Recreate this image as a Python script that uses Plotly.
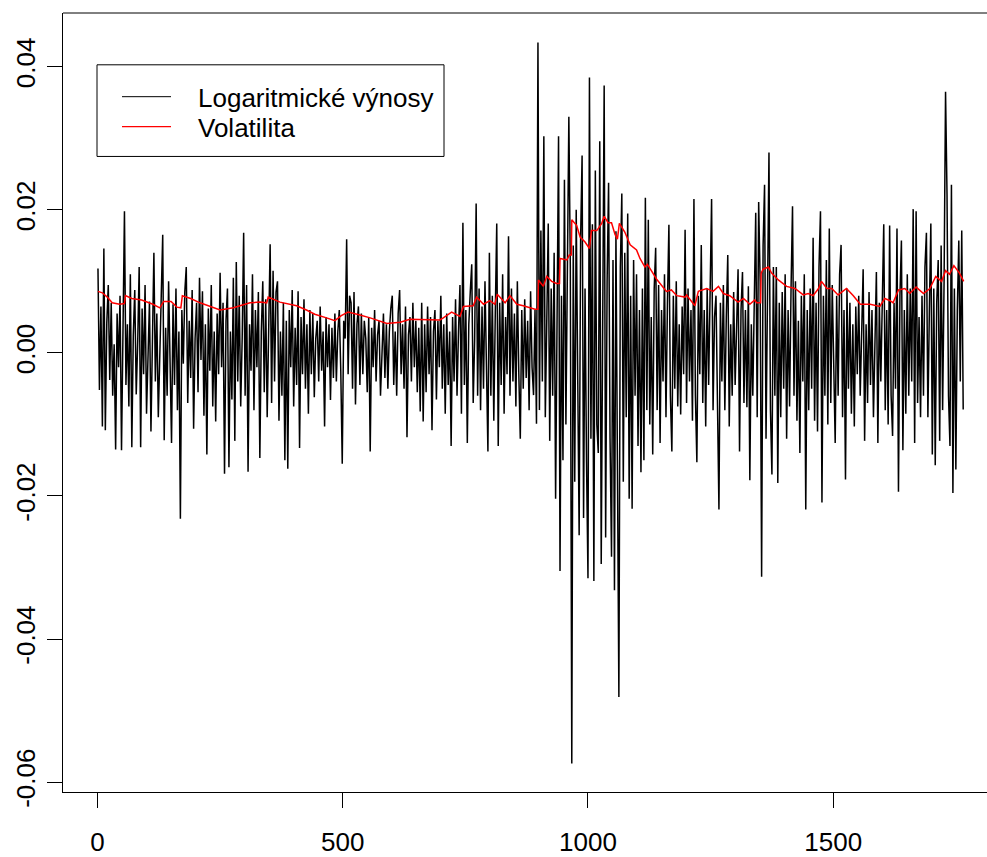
import plotly.graph_objects as go

# ---------------- data ----------------
# Log returns (in units of 1e-4), sampled every 3rd observation starting at t=1
returns_e4 = [
    118, -52, 65, -103, 146, -108, 42, 95, -38, 70, -60, 12, -135, 55, -20, 80, -136, 30, 198, -45,
    40, -75, 110, -132, 25, 88, -58, 15, 120, -132, 62, -30, 95, -85, 5, 72, -110, 48, 140, -40,
    55, -90, 20, 80, 165, -122, 35, -60, 100, -20, -126, 68, -45, 90, -80, 30, -232, 60, -15, 85,
    120, -70, 45, -35, 88, -106, 20, 70, -55, 105, -10, 86, -88, 40, -142, 62, -25, 95, -75, 30,
    -96, 55, -30, 112, -20, 70, -169, 45, 90, -160, 30, -65, 105, -123, 127, -40, 80, -75, 20, 168,
    -60, 95, -166, 40, -25, 110, -80, 60, -20, 85, -147, 30, 100, -55, 75, -90, 20, 152, -70, 115,
    -40, 85, 100, -95, 30, -60, 70, -150, 45, -162, 60, -20, 88, -75, 35, -45, 86, -133, 50, -30,
    75, -50, 40, -85, 60, -30, 55, -62, 20, 45, -40, 65, -25, 30, -103, 50, -20, 40, -66, 35,
    -35, 55, -40, 30, 60, -25, -155, 45, 20, 159, -30, 80, 70, -50, 85, -72, 40, 65, -45, 55,
    -30, 45, 20, -55, 50, -138, 35, -20, 60, -40, 25, 45, -60, 15, 55, -35, 40, -50, 30, 62,
    80, -45, 30, -60, 55, 88, -30, 40, -50, 65, -118, 25, 50, -40, 70, -20, 45, -55, 35, -82,
    70, -96, 40, -55, 65, -30, 50, -108, 30, 60, -65, 45, -20, 80, -50, 40, -85, 55, -45, 30,
    -130, 50, -40, 75, -60, 30, 95, -85, 182, -45, 60, -126, 40, 85, 124, -70, 20, 209, -60, 90,
    -80, 65, -50, 100, -40, -138, 140, -60, 80, -95, 55, 181, -130, 70, -45, 110, -85, 50, -30, 163,
    -60, 90, -40, 55, -75, 100, -30, -120, 60, -50, 75, -35, 45, -80, 86, -20, -59, 60, -99, 434,
    -80, 171, -40, 303, -90, 60, 181, -123, 90, -60, 140, -204, 110, 303, -305, 80, -150, 242, -100, 130,
    330, 120, -574, 150, -180, 200, -90, -255, 160, 276, -231, 90, -150, -315, 385, -120, 180, -319, 255, -100,
    -140, 296, -295, 150, 374, -258, 100, 238, -120, -285, 130, -332, 170, -150, -481, 120, 223, -180, 140, -90,
    195, -204, 80, -218, 130, -60, 110, -130, 60, -167, 90, -150, 217, -80, 186, -100, 50, -142, 90, 147,
    -80, 95, -126, 60, -40, 110, -90, 70, 179, -60, -138, 80, -50, 100, -75, 40, -86, 65, -30, 172,
    -70, 90, -40, 60, -95, 215, -60, -153, 80, -30, 151, -70, 60, -103, 90, -45, 110, 215, -80, 50,
    80, -60, -219, 70, -40, 95, -80, 50, 137, -103, 40, -60, 85, -45, 30, 117, -138, 60, 113, -70,
    60, -76, 93, -178, 40, -60, 70, 196, -90, 211, 100, -313, 150, 235, -120, 90, 280, -80, -170, 120,
    -60, 120, -182, 70, -90, 85, -50, 110, -120, 60, -75, 90, 205, -60, 100, -95, 45, -140, 80, -40,
    110, -219, 60, -80, 90, -50, 161, -95, 70, -110, 120, 198, -209, 80, -60, 130, -100, 174, -70, 95,
    -40, -126, 80, -60, 110, 151, -90, 60, -177, 90, -50, 70, -85, 40, -103, 65, -30, 80, -60, 50,
    117, -123, 40, -70, 85, -45, 60, -90, 30, 113, -126, 70, -40, 95, 180, -80, 60, -100, 178, -60,
    -116, 70, -50, 174, -194, 80, 157, -136, 60, -85, 110, -60, 90, -40, 201, -126, 198, -70, 50, -90,
    80, -60, 120, 168, -90, 60, 181, -142, 90, -157, 70, 130, -123, 150, -80, 100, 365, 221, -60, -130,
    235, -196, 90, -163, 60, 157, -40, 171, -79,
]
returns_start = 1
returns_step = 3

# Volatility (units of 1e-4) read at these time indices
vol_t = [
    1, 10, 20, 30, 45, 55, 57, 70, 90, 113, 127, 135, 150, 162, 170, 173, 190, 209, 250, 277,
    311, 331, 345, 348, 372, 406, 426, 443, 467, 484, 497, 511, 535, 556, 590, 617, 637, 668, 698, 705,
    722, 739, 746, 766, 773, 787, 800, 810, 815, 831, 841, 855, 868, 892, 898, 899, 909, 916, 926, 936,
    942, 943, 957, 962, 966, 967, 977, 984, 994, 1003, 1007, 1018, 1028, 1033, 1041, 1048, 1055, 1060, 1064, 1075,
    1086, 1099, 1106, 1116, 1121, 1140, 1160, 1170, 1181, 1198, 1201, 1218, 1225, 1242, 1255, 1266, 1276, 1289, 1306, 1317,
    1330, 1340, 1344, 1352, 1353, 1357, 1368, 1374, 1388, 1405, 1422, 1439, 1449, 1459, 1470, 1476, 1487, 1497, 1510, 1527,
    1541, 1555, 1575, 1595, 1605, 1616, 1622, 1633, 1646, 1656, 1669, 1684, 1697, 1709, 1721, 1729, 1737, 1746, 1757, 1766,
]
vol_e4 = [
    86, 84, 78, 70, 68, 69, 80, 76, 74, 68, 63, 72, 72, 64, 63, 80, 76, 70, 60, 63,
    70, 71, 70, 78, 71, 66, 60, 54, 49, 45, 52, 57, 53, 49, 41, 43, 47, 46, 46, 49,
    57, 51, 65, 66, 78, 68, 73, 68, 82, 70, 80, 68, 66, 61, 61, 102, 93, 107, 100, 97,
    97, 132, 130, 137, 137, 186, 178, 162, 155, 146, 171, 171, 181, 191, 182, 182, 166, 159, 181, 169,
    151, 144, 132, 120, 124, 103, 86, 88, 80, 78, 81, 66, 86, 90, 86, 93, 83, 80, 71, 76,
    68, 74, 70, 70, 111, 117, 120, 112, 102, 93, 90, 81, 83, 80, 90, 100, 90, 90, 81, 90,
    80, 68, 68, 65, 76, 73, 70, 88, 90, 83, 92, 83, 90, 107, 100, 115, 110, 122, 112, 100,
]

series_names = ["Logaritmické výnosy", "Volatilita"]
series_colors = ["black", "#FF0000"]

x_tick_vals = [0, 500, 1000, 1500]
x_tick_text = ["0", "500", "1000", "1500"]
y_tick_vals = [-0.06, -0.04, -0.02, 0.0, 0.02, 0.04]
y_tick_text = ["-0.06", "-0.04", "-0.02", "0.00", "0.02", "0.04"]

# ---------------- figure ----------------
W, H = 987, 857
ML, MR, MT, MB = 63, 0, 13, 62
PW, PH = W - ML - MR, H - MT - MB

ret_x = [returns_start + returns_step * i for i in range(len(returns_e4))]
ret_y = [v / 1e4 for v in returns_e4]
vol_y = [v / 1e4 for v in vol_e4]

FONT = "Liberation Sans, Arial, Helvetica, sans-serif"
FS = 26

fig = go.Figure()
fig.add_trace(go.Scatter(x=ret_x, y=ret_y, mode="lines", name=series_names[0],
                         line=dict(color=series_colors[0], width=1.5), showlegend=False))
fig.add_trace(go.Scatter(x=vol_t, y=vol_y, mode="lines", name=series_names[1],
                         line=dict(color=series_colors[1], width=1.5), showlegend=False))


def px_x(p):
    return (p - ML) / PW


def px_y(p):
    return (H - MB - p) / PH


shapes = [
    # top border of the plot box
    dict(type="line", xref="paper", yref="paper", x0=0, x1=1, y0=1, y1=1,
         line=dict(color="black", width=1)),
    # legend box
    dict(type="rect", xref="paper", yref="paper",
         x0=px_x(97), x1=px_x(444), y0=px_y(65), y1=px_y(157),
         line=dict(color="black", width=1), fillcolor="white"),
    dict(type="line", xref="paper", yref="paper",
         x0=px_x(122), x1=px_x(171), y0=px_y(97), y1=px_y(97),
         line=dict(color=series_colors[0], width=1)),
    dict(type="line", xref="paper", yref="paper",
         x0=px_x(122), x1=px_x(171), y0=px_y(127), y1=px_y(127),
         line=dict(color=series_colors[1], width=1.2)),
]
annotations = [
    dict(xref="paper", yref="paper", x=px_x(196), y=px_y(98), text=series_names[0],
         showarrow=False, xanchor="left", yanchor="middle",
         font=dict(family=FONT, size=FS, color="black")),
    dict(xref="paper", yref="paper", x=px_x(196), y=px_y(128), text=series_names[1],
         showarrow=False, xanchor="left", yanchor="middle",
         font=dict(family=FONT, size=FS, color="black")),
]

fig.update_layout(
    width=W, height=H,
    margin=dict(l=ML, r=MR, t=MT, b=MB, pad=0),
    paper_bgcolor="white", plot_bgcolor="white",
    font=dict(family=FONT, size=FS, color="black"),
    shapes=shapes, annotations=annotations,
    showlegend=False,
)
fig.update_xaxes(
    range=[-70.3, 1813.5], tickvals=x_tick_vals, ticktext=x_tick_text,
    showgrid=False, zeroline=False, showline=True, linecolor="black", linewidth=1,
    ticks="outside", ticklen=15, tickwidth=1, tickcolor="black",
    tickfont=dict(family=FONT, size=FS, color="black"), ticklabelstandoff=12,
)
fig.update_yaxes(
    range=[-0.06139, 0.04752], tickvals=y_tick_vals, ticktext=y_tick_text,
    showgrid=False, zeroline=False, showline=True, linecolor="black", linewidth=1,
    ticks="outside", ticklen=15, tickwidth=1, tickcolor="black", tickangle=-90,
    tickfont=dict(family=FONT, size=FS, color="black"), ticklabelstandoff=2,
)

fig.write_html("out.html")
